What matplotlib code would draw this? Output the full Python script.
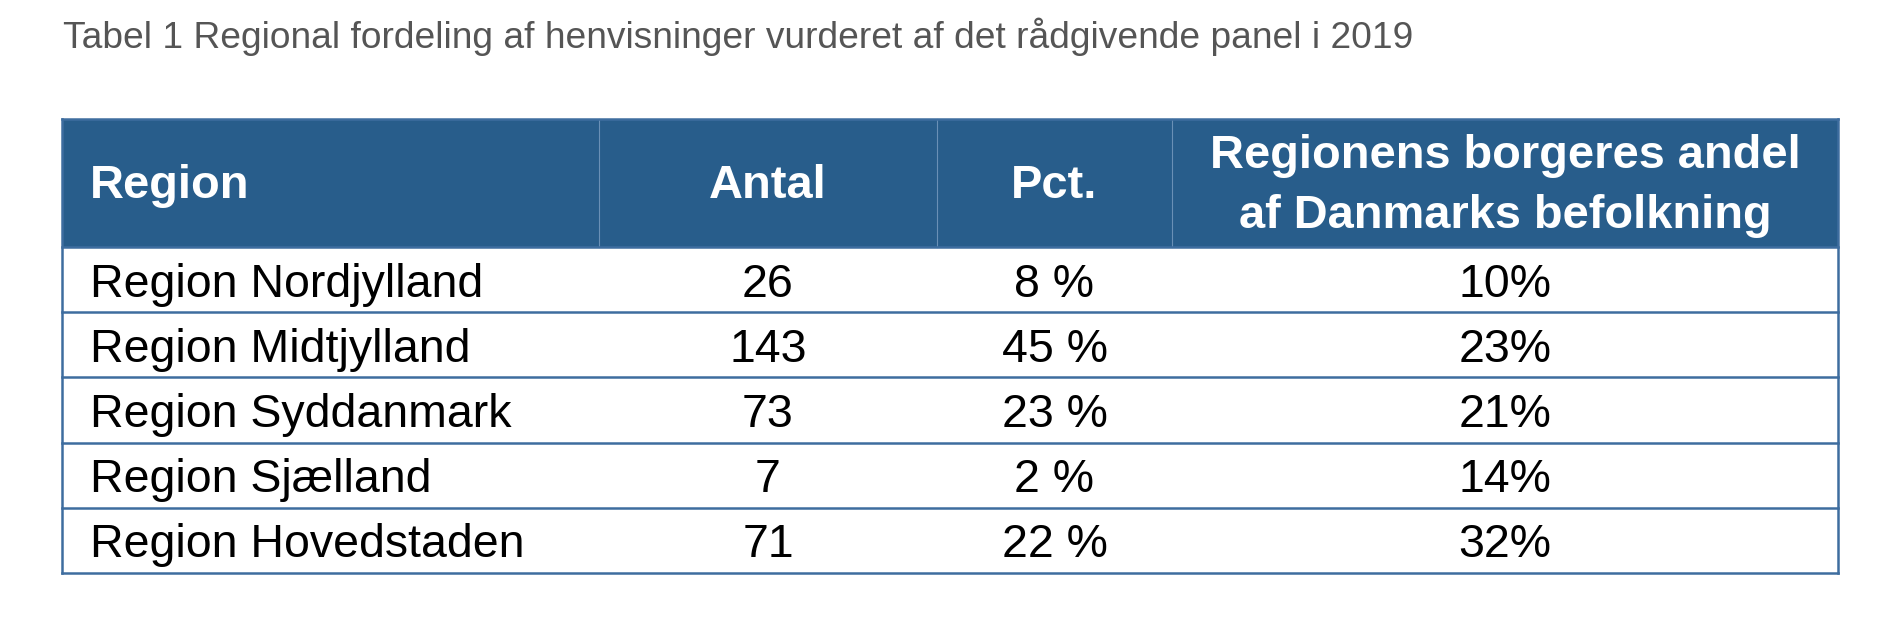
import matplotlib
matplotlib.use("Agg")
import matplotlib.pyplot as plt
from matplotlib.patches import Rectangle

# Data
title = "Tabel 1 Regional fordeling af henvisninger vurderet af det rådgivende panel i 2019"
headers = ["Region", "Antal", "Pct.", "Regionens borgeres andel\naf Danmarks befolkning"]
regions = ["Region Nordjylland", "Region Midtjylland", "Region Syddanmark",
           "Region Sjælland", "Region Hovedstaden"]
antal = [26, 143, 73, 7, 71]
pct = [8, 45, 23, 2, 22]
andel = [10, 23, 21, 14, 32]

# Layout (pixels)
W, H = 1888, 624
col_edges = [62, 599, 937, 1172, 1838]
header_top, header_bot = 119, 247
row_h = 65.2

header_col = '#285d8b'
line_col = '#3e6d9f'
font = 'Liberation Sans'

fig = plt.figure(figsize=(W / 100, H / 100), dpi=100, facecolor='white')
ax = fig.add_axes([0, 0, 1, 1])
ax.set_xlim(0, W)
ax.set_ylim(H, 0)
ax.axis('off')

# Titel
ax.text(63, 48, title, fontsize=26.7, color='#555555', family=font,
        ha='left', va='baseline')

# Header
ax.add_patch(Rectangle((col_edges[0], header_top), col_edges[-1] - col_edges[0],
                       header_bot - header_top, facecolor=header_col, edgecolor='none'))
for x in col_edges[1:-1]:
    ax.plot([x, x], [header_top, header_bot], color='#6a90b6', lw=0.8)

hy = (header_top + header_bot) / 2
for i, h in enumerate(headers):
    if i == 0:
        ax.text(col_edges[0] + 28, hy - 2, h, fontsize=33.8, fontweight='bold', color='white',
                family=font, ha='left', va='center_baseline')
    else:
        cx = (col_edges[i] + col_edges[i + 1]) / 2
        if '\n' in h:
            ax.text(cx, hy + 3, h, fontsize=33.8, fontweight='bold', color='white', family=font,
                    ha='center', va='center', multialignment='center', linespacing=1.5)
        else:
            ax.text(cx, hy - 2, h, fontsize=33.8, fontweight='bold', color='white', family=font,
                    ha='center', va='center_baseline')

# Rows
n = len(regions)
bottom = header_bot + n * row_h
for r in range(n):
    y0 = header_bot + r * row_h
    yc = y0 + row_h / 2
    vals = [regions[r], str(antal[r]), f"{pct[r]} %", f"{andel[r]}%"]
    for i, v in enumerate(vals):
        if i == 0:
            ax.text(col_edges[0] + 28, yc, v, fontsize=33.5, color='black', family=font,
                    ha='left', va='center_baseline')
        else:
            cx = (col_edges[i] + col_edges[i + 1]) / 2
            ax.text(cx, yc, v, fontsize=33.5, color='black', family=font,
                    ha='center', va='center_baseline')
    ax.plot([col_edges[0], col_edges[-1]], [y0 + row_h, y0 + row_h], color=line_col, lw=1.8)

# Outer border
ax.plot([col_edges[0], col_edges[-1]], [header_top, header_top], color=line_col, lw=1.8)
ax.plot([col_edges[0], col_edges[0]], [header_top, bottom], color=line_col, lw=1.8)
ax.plot([col_edges[-1], col_edges[-1]], [header_top, bottom], color=line_col, lw=1.8)
ax.plot([col_edges[0], col_edges[-1]], [header_bot, header_bot], color=line_col, lw=1.8)

fig.savefig('out.png', dpi=100, facecolor='white')
